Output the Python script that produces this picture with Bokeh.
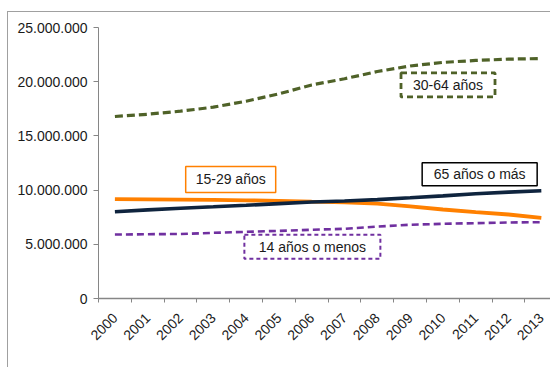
import math
from bokeh.plotting import figure
from bokeh.models import Range1d, FixedTicker
from bokeh.core.properties import value
from bokeh.embed import file_html
from bokeh.resources import INLINE

years = ["2000", "2001", "2002", "2003", "2004", "2005", "2006",
         "2007", "2008", "2009", "2010", "2011", "2012", "2013"]
g30_64 = [16.79e6, 17.00e6, 17.28e6, 17.65e6, 18.20e6, 18.88e6, 19.70e6,
          20.27e6, 20.94e6, 21.45e6, 21.78e6, 21.96e6, 22.08e6, 22.14e6]
g15_29 = [9.16e6, 9.14e6, 9.12e6, 9.10e6, 9.06e6, 9.00e6, 8.93e6,
          8.87e6, 8.75e6, 8.49e6, 8.21e6, 7.96e6, 7.75e6, 7.44e6]
g65 = [8.00e6, 8.18e6, 8.33e6, 8.46e6, 8.60e6, 8.75e6, 8.90e6,
       9.00e6, 9.12e6, 9.29e6, 9.47e6, 9.66e6, 9.81e6, 9.94e6]
g0_14 = [5.90e6, 5.93e6, 5.95e6, 6.06e6, 6.15e6, 6.24e6, 6.34e6,
         6.43e6, 6.64e6, 6.80e6, 6.89e6, 6.95e6, 7.01e6, 7.04e6]
y_ticks = [0, 5000000, 10000000, 15000000, 20000000, 25000000]
y_tick_labels = ["0", "5.000.000", "10.000.000", "15.000.000", "20.000.000", "25.000.000"]

FONT = "Liberation Sans"
AXIS = "#868686"
TXT = "#1a1a1a"

xs = list(range(len(years)))

p = figure(width=543, height=356, output_backend="svg", toolbar_location=None,
           x_range=Range1d(-0.5, 13.31), y_range=Range1d(0, 25000000),
           min_border_left=90, min_border_right=0, min_border_top=15,
           min_border_bottom=70)
p.margin = (11, 0, 0, 7)
p.styles = {"border-top": "1px solid #a0a0a0", "border-left": "1px solid #a0a0a0"}
p.outline_line_color = None
p.xgrid.grid_line_color = None
p.ygrid.grid_line_color = None
p.background_fill_color = "white"
p.border_fill_color = "white"

# lines
p.line(xs, g30_64, line_color="#4f6228", line_width=3.2, line_dash="8 4")
p.line(xs, g0_14, line_color="#7030a0", line_width=2.6, line_dash="7 4")
p.line(xs, g15_29, line_color="#ff8000", line_width=3.8)
p.line(xs, g65, line_color="#0f243e", line_width=3.6)

# axes
p.yaxis.ticker = FixedTicker(ticks=y_ticks)
p.yaxis.major_label_overrides = {t: l for t, l in zip(y_ticks, y_tick_labels)}
p.yaxis.axis_line_color = AXIS
p.yaxis.major_tick_line_color = AXIS
p.yaxis.major_tick_out = 5
p.yaxis.major_tick_in = 0
p.yaxis.minor_tick_line_color = None
p.yaxis.major_label_standoff = 6
p.yaxis.major_label_text_font = FONT
p.yaxis.major_label_text_font_size = "14px"
p.yaxis.major_label_text_color = TXT

p.xaxis.ticker = FixedTicker(ticks=xs, minor_ticks=[i - 0.5 for i in range(len(years) + 1)])
p.xaxis.major_label_overrides = {i: y for i, y in enumerate(years)}
p.xaxis.major_label_orientation = math.pi / 4
p.xaxis.axis_line_color = AXIS
p.xaxis.axis_line_width = 1.5
p.xaxis.major_tick_line_color = None
p.xaxis.minor_tick_line_color = AXIS
p.xaxis.minor_tick_out = 4
p.xaxis.minor_tick_in = 0
p.xaxis.major_label_standoff = 11
p.xaxis.major_label_text_font = FONT
p.xaxis.major_label_text_font_size = "14px"
p.xaxis.major_label_text_color = TXT

def box_label(x, y, text, color, dash, width, w, h):
    p.rect(x=[x], y=[y], width=w, height=h, width_units="screen", height_units="screen",
           fill_color="white", line_color=color, line_width=width, line_dash=dash)
    p.text(x=[x], y=[y], text=[text], text_font=value(FONT), text_font_size="14px",
           text_color=TXT, text_align="center", text_baseline="middle")

box_label(10.155, 19.70e6, "30-64 años", "#4f6228", "6 4", 2.8, 94, 24)
box_label(3.53, 10.98e6, "15-29 años", "#ff8000", "solid", 1.5, 90, 26)
box_label(11.12, 11.47e6, "65 años o más", "#000000", "solid", 1.5, 115, 23)
box_label(6.02, 4.77e6, "14 años o menos", "#7030a0", "4 3", 2, 136, 24)

open("out.html", "w").write(file_html(p, INLINE))
